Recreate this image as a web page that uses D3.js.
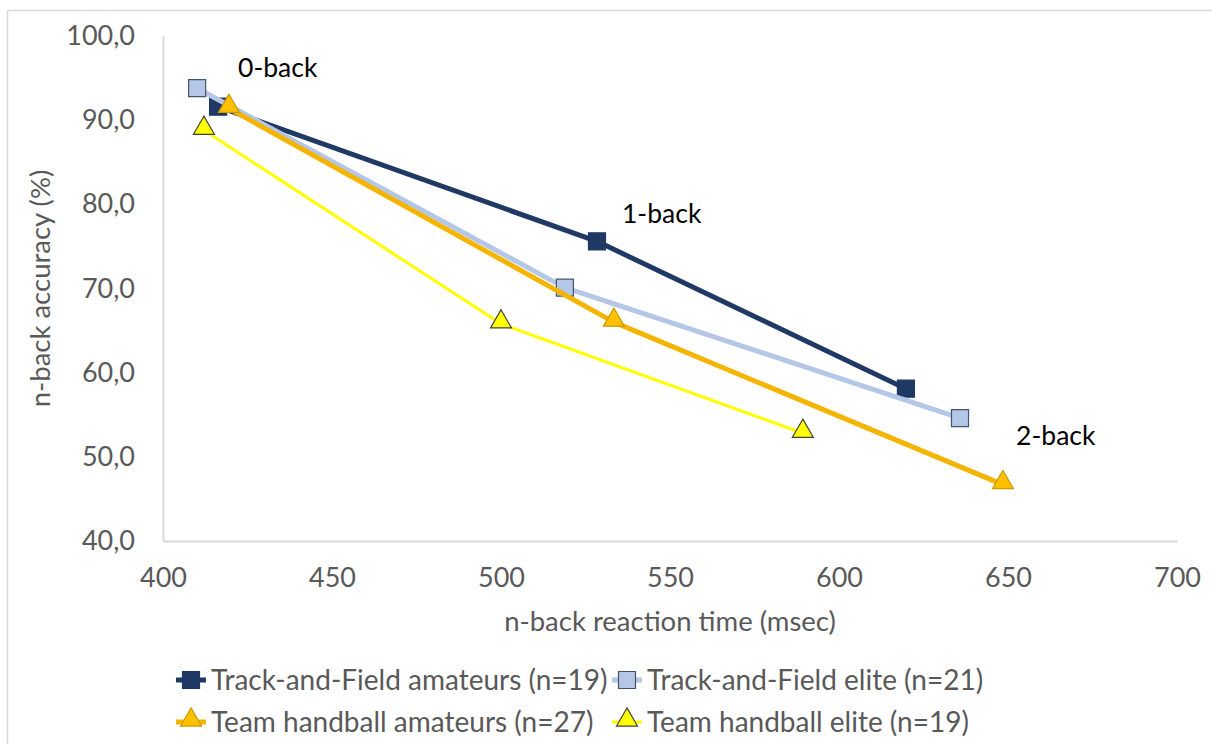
<!DOCTYPE html>
<html>
<head>
<meta charset="utf-8">
<script src="https://cdn.jsdelivr.net/npm/d3@7"></script>
<style>
  body { margin: 0; background: #fff; }
  text { font-family: Lato, "Open Sans", sans-serif; }
</style>
</head>
<body>
<div id="chart"></div>
<script>
// n-back data: [reaction time msec, accuracy %]
var seriesNames = [
  "Track-and-Field amateurs (n=19)",
  "Track-and-Field elite (n=21)",
  "Team handball amateurs (n=27)",
  "Team handball elite (n=19)"
];
var tfAmateurs = [[416.3, 91.6], [528.4, 75.6], [619.8, 58.1]];
var tfElite = [[410.1, 93.8], [518.9, 70.1], [635.8, 54.6]];
var hbAmateurs = [[419.5, 91.4], [533.4, 66.0], [648.5, 46.7]];
var hbElite = [[412.1, 88.8], [500.0, 65.8], [589.3, 52.8]];

var xTicks = [400, 450, 500, 550, 600, 650, 700];
var yTicks = [40, 50, 60, 70, 80, 90, 100];

var conditionLabels = ["0-back", "1-back", "2-back"];
var labelPos = [[422.2, 96.2], [535.8, 78.9], [652.4, 52.5]];

var svgWidth = 1212;
var svgHeight = 744;

var margin = { top: 36, bottom: 203, right: 35, left: 163 };
var width = svgWidth - margin.left - margin.right;
var height = svgHeight - margin.top - margin.bottom;

var svg = d3.select("#chart")
  .append("svg")
  .attr("width", svgWidth)
  .attr("height", svgHeight);

// chart area border (top + left visible)
svg.append("path")
  .attr("d", "M7.5,744 V10.5 H1212")
  .attr("fill", "none")
  .attr("stroke", "#d9d9d9")
  .attr("stroke-width", 1.5);

var chartGroup = svg.append("g")
  .attr("transform", `translate(${margin.left}, ${margin.top})`);

var xScale = d3.scaleLinear().domain([400, 700]).range([0, width]);
var yScale = d3.scaleLinear().domain([40, 100]).range([height, 0]);

var axisColor = "#d9d9d9";
var labelColor = "#595959";

// x axis
var xAxis = chartGroup.append("g")
  .attr("transform", `translate(0, ${height})`)
  .call(d3.axisBottom(xScale).tickValues(xTicks).tickSize(0).tickPadding(27).tickFormat(d3.format("d")));
xAxis.select(".domain").attr("stroke", axisColor).attr("stroke-width", 2);
xAxis.selectAll("text").attr("fill", labelColor).style("font-size", "27px");

// y axis
var commaFmt = d => d.toFixed(1).replace(".", ",");
var yAxis = chartGroup.append("g")
  .call(d3.axisLeft(yScale).tickValues(yTicks).tickSize(0).tickPadding(28).tickFormat(commaFmt));
yAxis.select(".domain").attr("stroke", axisColor).attr("stroke-width", 2);
yAxis.selectAll("text").attr("fill", labelColor).style("font-size", "27px");

// axis titles
chartGroup.append("text")
  .attr("transform", "rotate(-90)")
  .attr("x", -height / 2)
  .attr("y", -123)
  .attr("dy", "0.35em")
  .attr("text-anchor", "middle")
  .attr("fill", labelColor)
  .style("font-size", "27.5px")
  .text("n-back accuracy (%)");

chartGroup.append("text")
  .attr("x", width / 2)
  .attr("y", height + 80)
  .attr("dy", "0.35em")
  .attr("text-anchor", "middle")
  .attr("fill", labelColor)
  .style("font-size", "27.5px")
  .text("n-back reaction time (msec)");

var styles = [
  { data: tfAmateurs, line: "#1f3864", lw: 5, shape: "square", fill: "#1f3864", stroke: "#1f3864" },
  { data: tfElite, line: "#b4c7e7", lw: 5, shape: "square", fill: "#b4c7e7", stroke: "#44546a" },
  { data: hbAmateurs, line: "#f5b400", lw: 5, shape: "triangle", fill: "#ffc000", stroke: "#c99a00" },
  { data: hbElite, line: "#ffff00", lw: 3, shape: "triangle", fill: "#ffff00", stroke: "#404040" }
];

var lineGen = d3.line()
  .x(d => xScale(d[0]))
  .y(d => yScale(d[1]));

function markerPath(shape) {
  if (shape === "square") return d3.symbol().type(d3.symbolSquare).size(290)();
  return d3.symbol().type(d3.symbolTriangle).size(190)();
}

styles.forEach(function(s) {
  chartGroup.append("path")
    .datum(s.data)
    .attr("d", lineGen)
    .attr("fill", "none")
    .attr("stroke", s.line)
    .attr("stroke-width", s.lw)
    .attr("stroke-linejoin", "round");

  chartGroup.selectAll(null)
    .data(s.data)
    .enter()
    .append("path")
    .attr("d", markerPath(s.shape))
    .attr("transform", d => `translate(${xScale(d[0])}, ${yScale(d[1]) + (s.shape === "triangle" ? -2 : 0)})`)
    .attr("fill", s.fill)
    .attr("stroke", s.stroke)
    .attr("stroke-width", 1.2);
});

// condition labels
chartGroup.selectAll(".cond")
  .data(conditionLabels)
  .enter()
  .append("text")
  .attr("class", "cond")
  .attr("x", (d, i) => xScale(labelPos[i][0]))
  .attr("y", (d, i) => yScale(labelPos[i][1]))
  .attr("dy", "0.35em")
  .attr("fill", "#000")
  .style("font-size", "26.5px")
  .text(d => d);

// legend
var legendPos = [[176, 680], [612, 680], [176, 722], [612, 722]];
var legend = svg.selectAll(".legend")
  .data(styles)
  .enter()
  .append("g")
  .attr("class", "legend")
  .attr("transform", (d, i) => `translate(${legendPos[i][0]}, ${legendPos[i][1]})`);

legend.append("line")
  .attr("x1", 0).attr("x2", 30)
  .attr("y1", 0).attr("y2", 0)
  .attr("stroke", d => d.line)
  .attr("stroke-width", d => d.lw);

legend.append("path")
  .attr("d", d => markerPath(d.shape))
  .attr("transform", d => `translate(15, ${d.shape === "triangle" ? -2 : 0})`)
  .attr("fill", d => d.fill)
  .attr("stroke", d => d.stroke)
  .attr("stroke-width", 1.2);

legend.append("text")
  .attr("x", 35)
  .attr("y", 0)
  .attr("dy", "0.35em")
  .attr("fill", labelColor)
  .style("font-size", "28px")
  .text((d, i) => seriesNames[i]);
</script>
</body>
</html>
